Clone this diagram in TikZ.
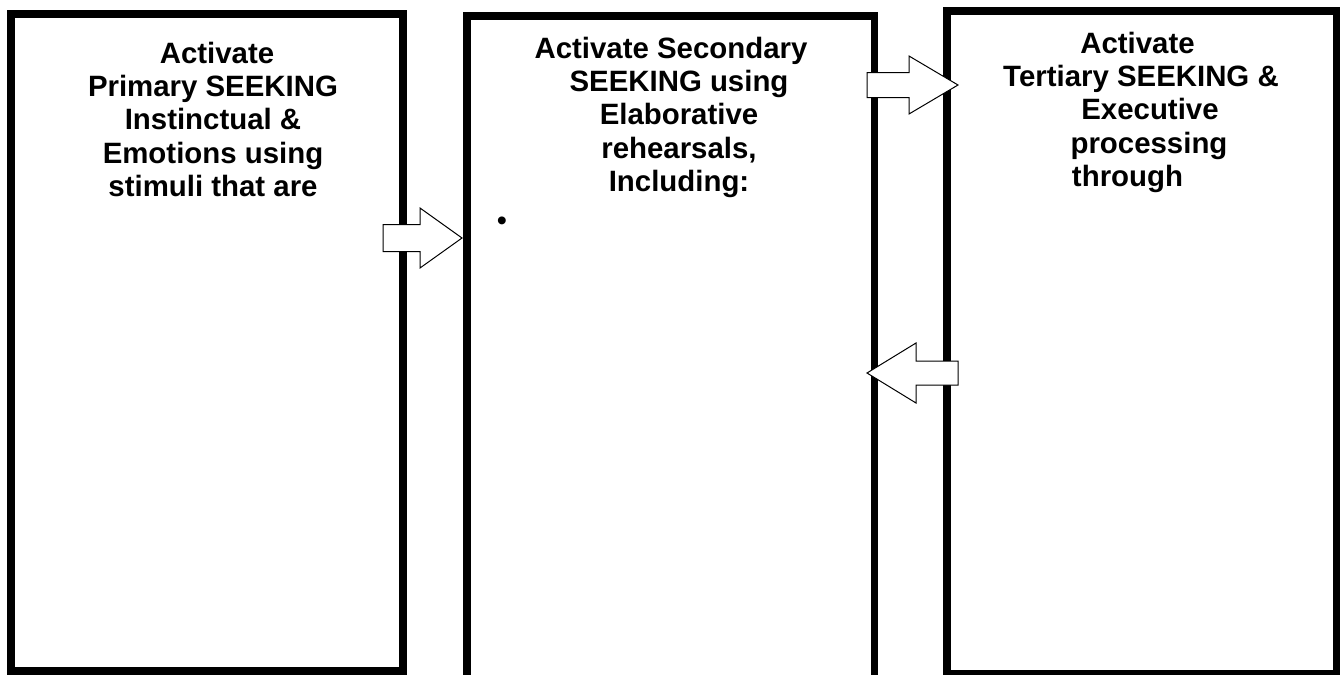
\documentclass[tikz,border=0pt]{standalone}
\usepackage{fontspec}
\setmainfont{Liberation Sans}
\begin{document}
\begin{tikzpicture}[x=1pt,y=-1pt,
  stagebox/.style={draw=black,fill=white,line width=7.5pt,inner sep=0pt,outer sep=0pt},
  stagetext/.style={font=\fontsize{29.4}{33.4}\selectfont\bfseries,align=center,anchor=base,inner sep=0pt},
  blockarrow/.style={draw=black,fill=white,line width=1pt,line join=miter}]
\useasboundingbox (0,0) rectangle (1342,675);

% three stage boxes
\node[stagebox,minimum width=392.25pt,minimum height=657pt] (b1) at (206.9,342.5) {};
\node[stagebox,minimum width=407.5pt,minimum height=674pt] (b2) at (670.75,353) {};
\node[stagebox,minimum width=389.5pt,minimum height=663pt] (b3) at (1141.75,342.5) {};

% box headings (anchored on the baseline of their last line)
\node[stagetext] (t1) at (213,196.7) {\hspace*{8pt}Activate\\Primary SEEKING\\Instinctual \&\\Emotions using\\stimuli that are};
\node[stagetext] (t2) at (679,191.7) {Activate Secondary\hspace*{16pt}\\SEEKING using\\Elaborative\\rehearsals,\\Including:};
\node[stagetext] (t3) at (1141,186.7) {Activate\hspace*{7pt}\\Tertiary SEEKING \&\\\hspace*{18pt}Executive\\\hspace*{16pt}processing\\through\hspace*{27pt}};

% empty bullet in the middle box
\node[font=\fontsize{29}{30}\selectfont,inner sep=0pt] (bullet) at (502,224) {•};

% block arrows between the stages
\coordinate (tipA) at (462,238);
\coordinate (tipB) at (958,85);
\coordinate (tipC) at (867,373);
\draw[blockarrow,shift={(tipA)}] (0,0) -- (-42,-30) -- (-42,-13.5) -- (-79,-13.5)
  -- (-79,13.5) -- (-42,13.5) -- (-42,30) -- cycle;
\draw[blockarrow,shift={(tipB)}] (0,0) -- (-49,-29) -- (-49,-12.5) -- (-91,-12.5)
  -- (-91,12.5) -- (-49,12.5) -- (-49,29) -- cycle;
\draw[blockarrow,shift={(tipC)}] (0,0) -- (49,-30) -- (49,-12) -- (91,-12)
  -- (91,12) -- (49,12) -- (49,30) -- cycle;
\end{tikzpicture}
\end{document}
